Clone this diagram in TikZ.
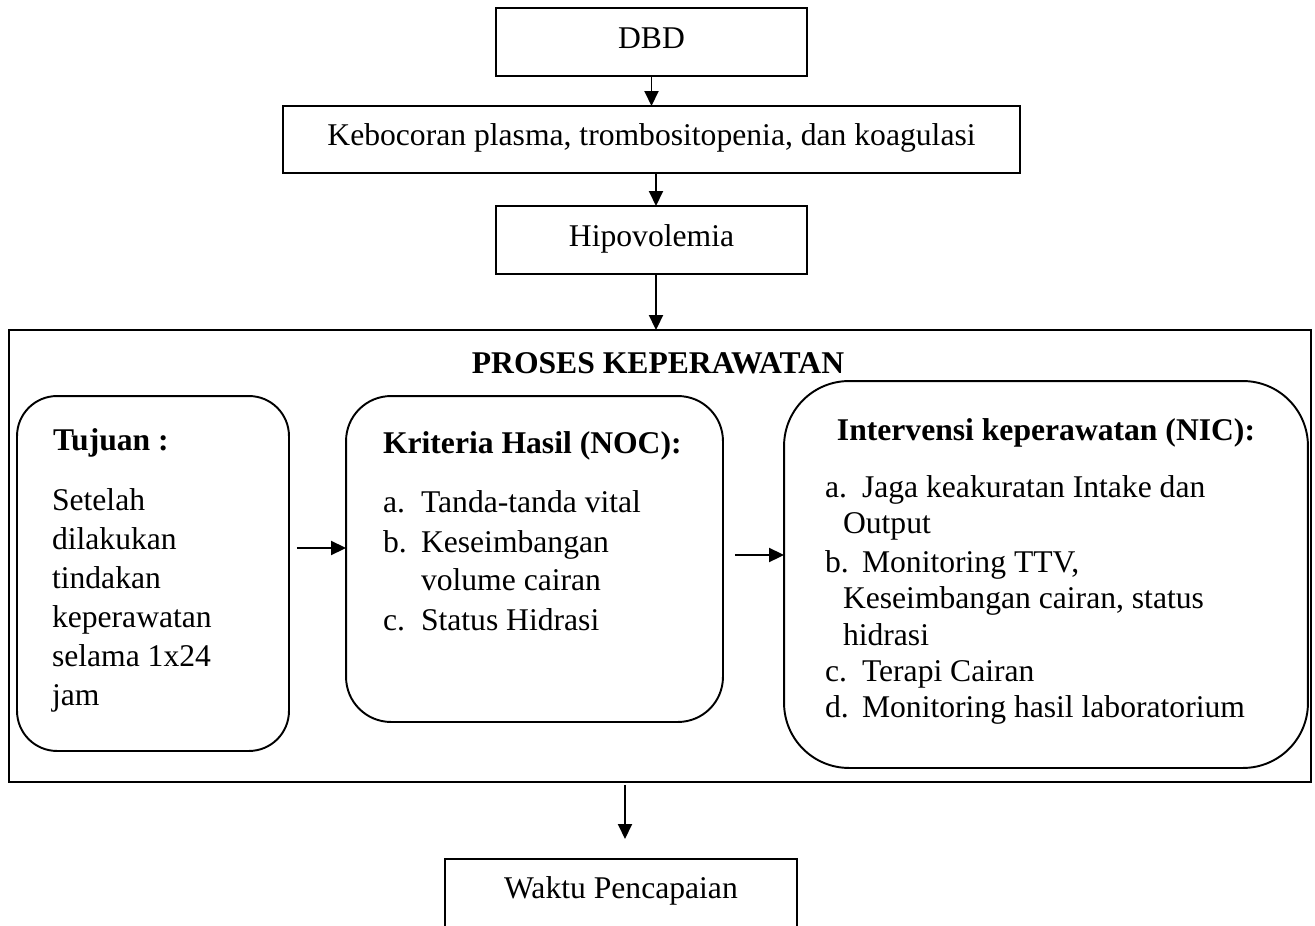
\documentclass[tikz,border=0pt]{standalone}
\usepackage{fontspec}
\setmainfont{Liberation Serif}
\usetikzlibrary{arrows.meta}

\begin{document}
\begin{tikzpicture}[x=0.02cm, y=-0.02cm,
	every node/.style={font=\fontsize{18}{22}\selectfont, inner sep=0pt, outer sep=0pt},
	tebal/.style={font=\fontsize{18}{22}\selectfont\bfseries},
	kotak/.style={draw, line width=0.8pt, minimum height=1.36cm, text height=0.44cm, text depth=0.18cm},
	bulat/.style={draw, line width=1.1pt, rounded corners=#1},
	baris/.style={anchor=base west},
	panah/.style={line width=1.1pt, -{Triangle[length=0.3cm, width=0.28cm]}}]
\useasboundingbox (0,0) rectangle (1315,926);

\node[kotak, minimum width=6.22cm] (dbd) at (651.5,42) {DBD};
\node[kotak, minimum width=14.74cm, minimum height=1.34cm] (keb) at (651.5,139.5) {Kebocoran plasma, trombositopenia, dan koagulasi};
\node[kotak, minimum width=6.22cm] (hipo) at (651.5,240) {Hipovolemia};

\node[draw, line width=1pt, minimum width=26.04cm, minimum height=9.04cm] (proses) at (660,556) {};
\node[tebal, anchor=base] (judul) at (658,373) {PROSES KEPERAWATAN};

\node[bulat=0.8cm, minimum width=5.44cm, minimum height=7.1cm] (tujuan) at (153,573.5) {};
\node[bulat=0.9cm, minimum width=7.54cm, minimum height=6.52cm] (kriteria) at (534.5,559) {};
\node[bulat=1.3cm, minimum width=10.48cm, minimum height=7.74cm] (nic) at (1046,574.5) {};

\node[tebal, baris] (tj0) at (53,450) {Tujuan :};
\foreach \t [count=\i] in {Setelah, dilakukan, tindakan, keperawatan, selama 1x24, jam}
	\node[baris] (tj\i) at (52,{471+39*\i}) {\t};

\node[tebal, baris] (kr0) at (383,453) {Kriteria Hasil (NOC):};
\node[baris] (kra) at (383,512) {a.};
\node[baris] (kr1) at (421,512) {Tanda-tanda vital};
\node[baris] (krb) at (383,552) {b.};
\node[baris] (kr2) at (421,552) {Keseimbangan};
\node[baris] (kr3) at (421,590) {volume cairan};
\node[baris] (krc) at (383,630) {c.};
\node[baris] (kr4) at (421,630) {Status Hidrasi};

\node[tebal, anchor=base] (nc0) at (1046,440) {Intervensi keperawatan (NIC):};
\node[baris] (nca) at (825,497) {a.};
\node[baris] (nc1) at (862,497) {Jaga keakuratan Intake dan};
\node[baris] (nc2) at (843,533) {Output};
\node[baris] (ncb) at (825,572) {b.};
\node[baris] (nc3) at (862,572) {Monitoring TTV,};
\node[baris] (nc4) at (843,608) {Keseimbangan cairan, status};
\node[baris] (nc5) at (843,645) {hidrasi};
\node[baris] (ncc) at (825,681) {c.};
\node[baris] (nc6) at (862,681) {Terapi Cairan};
\node[baris] (ncd) at (825,717) {d.};
\node[baris] (nc7) at (862,717) {Monitoring hasil laboratorium};

\node[draw, line width=0.8pt, anchor=north, minimum width=7.04cm, text height=0.44cm, text depth=1.2cm, inner ysep=0.34cm] (waktu) at (621,859) {Waktu Pencapaian};

\draw[panah] (dbd.south) -- (keb.north);
\draw[panah] ([shift={(4.5,0)}]keb.south) -- ([shift={(4.5,0)}]hipo.north);
\draw[panah] ([shift={(4.5,0)}]hipo.south) -- ([shift={(4.5,0)}]hipo.south |- proses.north);
\draw[panah] ([shift={(8,-25.5)}]tujuan.east) -- ([shift={(0,-11)}]kriteria.west);
\draw[panah] ([shift={(12,-4)}]kriteria.east) -- ([shift={(0,-19.5)}]nic.west);
\draw[panah] ([shift={(4,3)}]proses.south -| waktu.north) -- ([shift={(4,-20)}]waktu.north);

\end{tikzpicture}
\end{document}
